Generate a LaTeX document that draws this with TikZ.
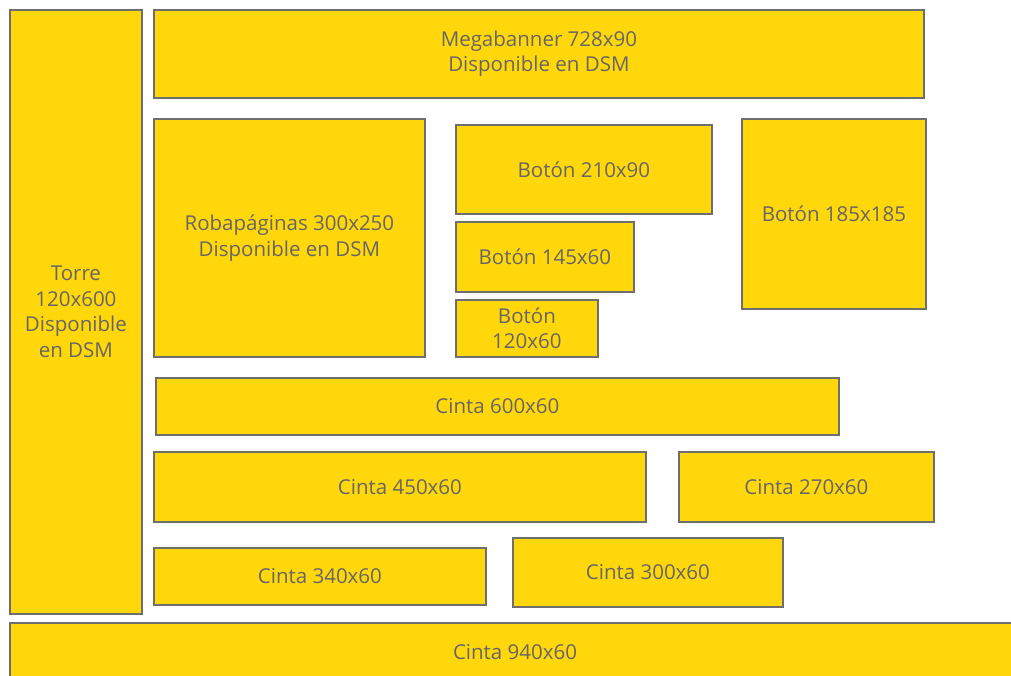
\documentclass[tikz,border=0pt]{standalone}
\usepackage{fontspec}
\setmainfont{Open Sans}
\definecolor{adyellow}{HTML}{FFD70A}
\definecolor{adborder}{HTML}{6E6E6E}
\definecolor{adtext}{HTML}{666666}
\begin{document}
\begin{tikzpicture}[x=1pt,y=-1pt,
  adbox/.style={draw=adborder, line width=1.8pt, fill=adyellow, anchor=north west,
    inner sep=0pt, align=center, text=adtext, font=\fontsize{20.5}{25.5}\selectfont}]
\useasboundingbox (0,0) rectangle (1011,676);
\clip (0,0) rectangle (1011,676);
\fill[white] (0,0) rectangle (1011,676);
\newcommand{\adrect}[6]{%
  \node[adbox, minimum width=#4-#2, minimum height=#5-#3] (#1) at (#2,#3) {#6};}
\adrect{torre}{9}{9}{141}{613}{Torre\\120x600\\Disponible\\en DSM}
\adrect{mega}{153}{9}{923}{97}{Megabanner 728x90\\Disponible en DSM}
\adrect{roba}{153}{118}{424}{356}{Robapáginas 300x250\\Disponible en DSM}
\adrect{b210}{455}{124}{711}{213}{Botón 210x90}
\adrect{b145}{455}{221}{633}{291}{Botón 145x60}
\adrect{b120}{455}{299}{597}{356}{Botón\\120x60}
\adrect{b185}{741}{118}{925}{308}{Botón 185x185}
\adrect{c600}{155}{377}{838}{434}{Cinta 600x60}
\adrect{c450}{153}{451}{645}{521}{Cinta 450x60}
\adrect{c270}{678}{451}{933}{521}{Cinta 270x60}
\adrect{c340}{153}{547}{485}{604}{Cinta 340x60}
\adrect{c300}{512}{537}{782}{606}{Cinta 300x60}
\node[adbox, minimum width=1025, minimum height=60] (c940) at (9,622) {};
\node[text=adtext, font=\fontsize{20.5}{25.5}\selectfont] (c940t) at (515,652) {Cinta 940x60};
\end{tikzpicture}
\end{document}
